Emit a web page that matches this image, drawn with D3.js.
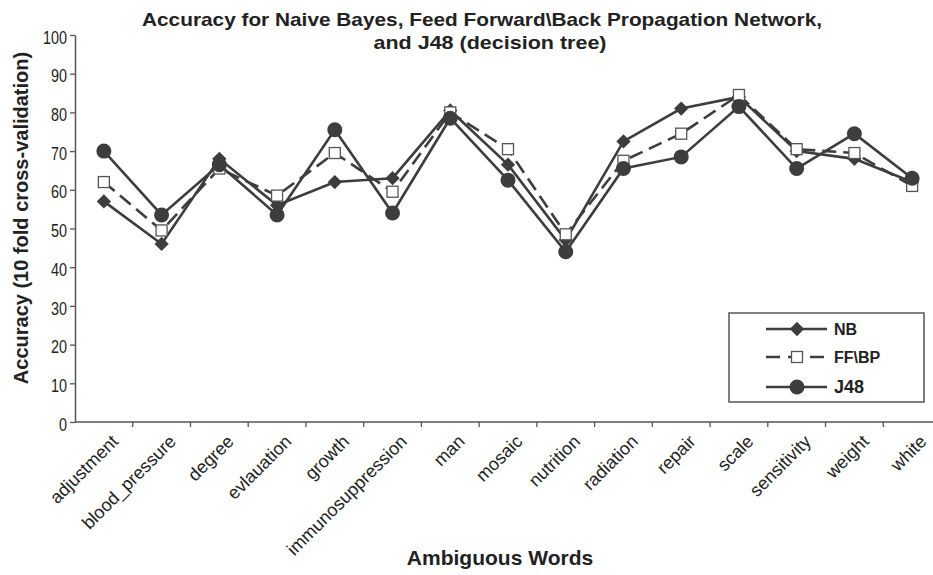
<!DOCTYPE html>
<html><head><meta charset="utf-8">
<script src="https://cdn.jsdelivr.net/npm/d3@7"></script>
<style>body{margin:0;background:#fff}svg{display:block}</style>
</head><body><svg id="c" width="933" height="575"></svg>
<script>
const categories = ["adjustment","blood_pressure","degree","evlauation","growth","immunosuppression","man","mosaic","nutrition","radiation","repair","scale","sensitivity","weight","white"];
const nbValues = [57,46,68,56,62,63,80.5,66.5,47,72.5,81,84,70,68,62];
const ffbpValues = [62,49.5,65.5,58.5,69.5,59.5,80,70.5,48.5,67.5,74.5,84.5,70.5,69.5,61];
const j48Values = [70,53.5,66.5,53.5,75.5,54,78.5,62.5,44,65.5,68.5,81.5,65.5,74.5,63];
const yTicks = [0,10,20,30,40,50,60,70,80,90,100];
const seriesNames = ["NB","FF\\BP","J48"];

const svg = d3.select("#c");
const col = "#3d3d3d";
const x = d3.scaleBand().domain(categories).range([75, 941]);
const y = d3.scaleLinear().domain([0,100]).range([422, 35]);

// axes
const yAx = svg.append("g").attr("transform","translate(75,0)")
  .call(d3.axisLeft(y).tickValues(yTicks).tickSize(5).tickSizeOuter(0));
yAx.select(".domain").attr("stroke","#555").attr("stroke-width",1.5);
yAx.selectAll(".tick line").attr("stroke","#555").attr("stroke-width",1.3);
yAx.selectAll("text").attr("font-family","'Liberation Sans',Arial,sans-serif")
  .attr("font-size",18).attr("fill","#222").attr("x",-8/0.8).attr("dy","0.45em")
  .attr("transform","scale(0.8,1)");

const xAx = svg.append("g").attr("transform","translate(0,422)");
xAx.append("line").attr("x1",75).attr("x2",941).attr("stroke","#555").attr("stroke-width",1.5);
categories.forEach((c,i)=>{ if(i>0){ xAx.append("line").attr("x1",x(c)).attr("x2",x(c)).attr("y1",0).attr("y2",5).attr("stroke","#555").attr("stroke-width",1.3);} });
xAx.selectAll("text.cl").data(categories).enter().append("text")
  .attr("transform",d=>`translate(${x(d)+x.bandwidth()/2+6},${11}) rotate(-45)`)
  .attr("text-anchor","end").attr("dy","0.75em")
  .attr("font-family","'Liberation Sans',Arial,sans-serif").attr("font-size",18).attr("fill","#222")
  .text(d=>d);

// lines
const cx = d=>x(d)+x.bandwidth()/2;
const data = [nbValues, ffbpValues, j48Values];
const line = d3.line().x((v,i)=>cx(categories[i])).y(v=>y(v));
data.forEach((vals,k)=>{
  svg.append("path").attr("d",line(vals)).attr("fill","none").attr("stroke",col)
    .attr("stroke-width",2.6).attr("stroke-dasharray",k===1?"14,7":null);
});
function marker(g,k,px,py){
  if(k===0) g.append("path").attr("d",d3.symbol(d3.symbolDiamond2,130)()).attr("transform",`translate(${px},${py})`).attr("fill",col);
  else if(k===1) g.append("rect").attr("x",px-5.5).attr("y",py-5.5).attr("width",11).attr("height",11).attr("fill","#fff").attr("stroke","#555").attr("stroke-width",1.3);
  else g.append("circle").attr("cx",px).attr("cy",py).attr("r",7.5).attr("fill",col);
}
const mk = svg.append("g");
data.forEach((vals,k)=>vals.forEach((v,i)=>marker(mk,k,cx(categories[i]),y(v))));

// legend
const lg = svg.append("g");
lg.append("rect").attr("x",729).attr("y",313).attr("width",195).attr("height",89).attr("fill","#fff").attr("stroke","#555").attr("stroke-width",1.5);
const ly = [329,357,387];
seriesNames.forEach((n,k)=>{
  lg.append("line").attr("x1",766).attr("x2",827).attr("y1",ly[k]).attr("y2",ly[k]).attr("stroke",col).attr("stroke-width",2.6).attr("stroke-dasharray",k===1?"14,8":null);
  marker(lg,k,797,ly[k]);
  lg.append("text").attr("x",834).attr("y",ly[k]).attr("dy","0.36em").attr("font-family","'Liberation Sans',Arial,sans-serif").attr("font-weight","bold").attr("font-size",k===2?18:16).attr("fill","#222").text(n);
});

// titles
const tf = "'Liberation Sans',Arial,sans-serif";
svg.append("text").attr("x",482).attr("y",26).attr("text-anchor","middle").attr("font-family",tf).attr("font-weight","bold").attr("font-size",19).attr("fill","#222")
  .attr("textLength",680).attr("lengthAdjust","spacingAndGlyphs").text("Accuracy for Naive Bayes, Feed Forward\\Back Propagation Network,");
svg.append("text").attr("x",490).attr("y",49).attr("text-anchor","middle").attr("font-family",tf).attr("font-weight","bold").attr("font-size",19).attr("fill","#222")
  .attr("textLength",233).attr("lengthAdjust","spacingAndGlyphs").text("and J48 (decision tree)");
svg.append("text").attr("transform","translate(28,218) rotate(-90)").attr("text-anchor","middle").attr("font-family",tf).attr("font-weight","bold").attr("font-size",20).attr("fill","#222").text("Accuracy (10 fold cross-validation)");
svg.append("text").attr("x",500).attr("y",565).attr("text-anchor","middle").attr("font-family",tf).attr("font-weight","bold").attr("font-size",21).attr("fill","#222").text("Ambiguous Words");
</script></body></html>
